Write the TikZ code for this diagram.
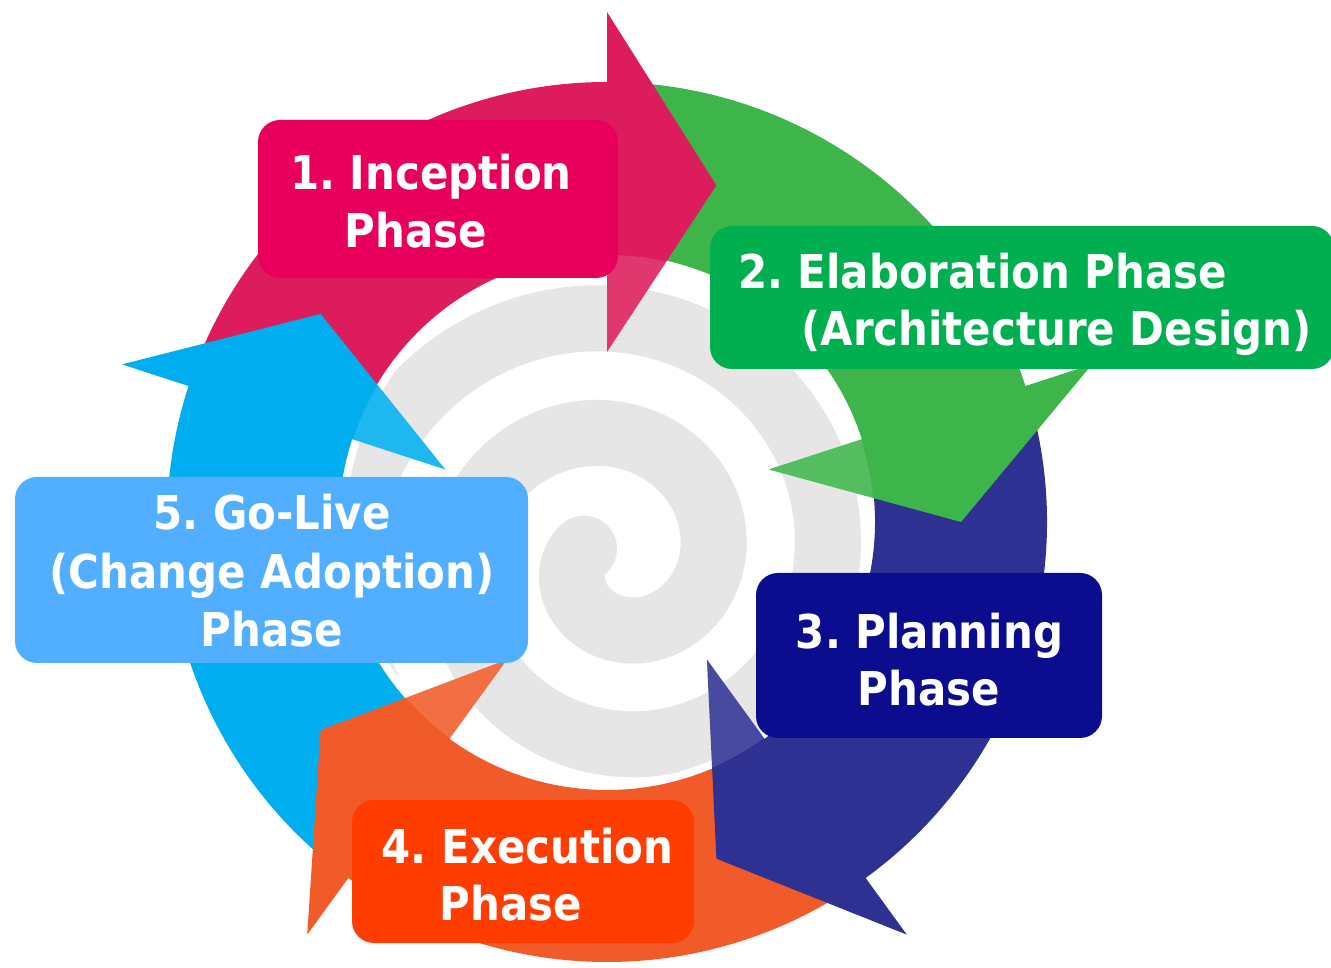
\documentclass[tikz,border=0pt]{standalone}
\usepackage{fontspec}
\setmainfont{DejaVu Sans}[FakeStretch=0.9]
\definecolor{pinkband}{HTML}{DC1C5C}
\definecolor{greenband}{HTML}{3DB54A}
\definecolor{navyband}{HTML}{2E3192}
\definecolor{orangeband}{HTML}{F15A29}
\definecolor{blueband}{HTML}{00AEEF}
\definecolor{pinkbox}{HTML}{E8005C}
\definecolor{greenbox}{HTML}{00B050}
\definecolor{navybox}{HTML}{0C0C8E}
\definecolor{orangebox}{HTML}{FF3D00}
\definecolor{bluebox}{HTML}{52AFFF}
\definecolor{spiralgray}{HTML}{E6E6E6}
\begin{document}
\begin{tikzpicture}[x=1pt,y=1pt,
  phasebox/.style={rounded corners=22pt, inner sep=0pt, outer sep=0pt},
  lbl/.style={font=\fontsize{46.6pt}{56pt}\selectfont\bfseries\frenchspacing, text=white, anchor=base, inner sep=0pt}]
\useasboundingbox (0,0) rectangle (1331,967);
\fill[white] (0,0) rectangle (1331,967);

% background spiral
\begin{scope}[shift={(615,407)}]
  \draw[spiralgray, line width=66pt, line cap=round]
    plot[domain=-200:900, samples=500, variable=\t]
    ({(97+0.32*\t)*cos(\t)}, {(97+0.32*\t)*sin(\t)});
\end{scope}

% ring of arrows
\begin{scope}[shift={(607,445)}]
  \fill[white, even odd rule] (0,0) circle (268pt) (0,0) circle (260pt);
  \foreach \c/\a [evaluate=\a as \s using \a+71, evaluate=\a as \f using \a-2] in
      {pinkband/90, greenband/18, navyband/-54, orangeband/-126, blueband/-198}{
    \fill[\c] (\s:440pt) arc[start angle=\s, end angle=\f, radius=440pt]
      -- (\f:268pt) arc[start angle=\f, end angle=\s, radius=268pt] -- cycle;
  }
  \foreach \c/\a [evaluate=\a as \e using \a-18] in
      {pinkband/90, greenband/18, navyband/-54, orangeband/-126, blueband/-198}{
    \fill[\c] (\a:510pt) -- (\e:354pt) -- (\a:170pt) -- cycle;
  }
  \begin{scope}
    \clip (0,0) circle (267pt);
    \foreach \a [evaluate=\a as \e using \a-18] in {90,18,-54,-126,-198}{
      \fill[white, opacity=0.12] (\a:510pt) -- (\e:354pt) -- (\a:170pt) -- cycle;
    }
  \end{scope}
\end{scope}

% phase boxes
\node[phasebox, fill=pinkbox,   minimum width=360pt, minimum height=158pt] (box1) at (438,768) {};
\node[phasebox, fill=greenbox,  minimum width=624pt, minimum height=143pt] (box2) at (1022,669.5) {};
\node[phasebox, fill=navybox,   minimum width=346pt, minimum height=165pt] (box3) at (929,311.5) {};
\node[phasebox, fill=orangebox, minimum width=342pt, minimum height=143pt] (box4) at (523,95.5) {};
\node[phasebox, fill=bluebox,   minimum width=513pt, minimum height=186pt] (box5) at (271.5,397) {};

% labels
\node[lbl] (t1a) at (431,777) {1. Inception};
\node[lbl] (t1b) at (416,719) {Phase};
\node[lbl] (t2a) at (982.5,678) {2. Elaboration Phase};
\node[lbl] (t2b) at (1056.5,621) {(Architecture Design)};
\node[lbl] (t3a) at (929.5,318) {3. Planning};
\node[lbl] (t3b) at (929,261) {Phase};
\node[lbl] (t4a) at (527.5,103) {4. Execution};
\node[lbl] (t4b) at (511,47) {Phase};
\node[lbl] (t5a) at (272,437) {5. Go-Live};
\node[lbl] (t5b) at (272,378) {(Change Adoption)};
\node[lbl] (t5c) at (272,320) {Phase};
\end{tikzpicture}
\end{document}
